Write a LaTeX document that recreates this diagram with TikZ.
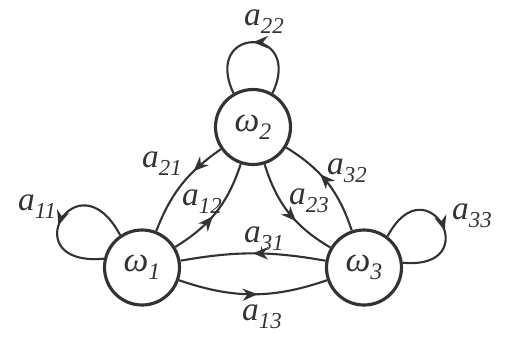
\documentclass[tikz,border=0pt]{standalone}
\usepackage{fontspec}
\setmainfont{Liberation Serif}
\usetikzlibrary{arrows.meta,decorations.markings}
\definecolor{ink}{gray}{0.2}
\tikzset{
  stnode/.style={circle,draw=ink,line width=1.8pt,minimum size=1.5cm,inner sep=0pt,
    text=ink,font=\fontsize{20}{22}\selectfont},
  trans/.style={draw=ink,line width=1.2pt},
  midarrow/.style={postaction={decorate,decoration={markings,
    mark=at position #1 with {\arrow{Stealth[length=8.5pt,width=7pt]}}}}},
  lbl/.style={inner sep=0pt,text=ink,font=\fontsize{19}{22}\selectfont}
}
\newcommand{\acoef}[1]{\textit{a}\raisebox{-4.5pt}{\fontsize{13}{14}\selectfont\textit{#1}}}
\newcommand{\wst}[1]{\textit{ω}\raisebox{-4.5pt}{\fontsize{13.5}{14}\selectfont\textit{#1}}}
\begin{document}
\begin{tikzpicture}
\useasboundingbox (0,0) rectangle (10.1,6.74);
% 状态
\node[stnode] (w1) at (2.84,1.39) {\wst{1}};
\node[stnode] (w2) at (5.06,4.20) {\wst{2}};
\node[stnode] (w3) at (7.28,1.39) {\wst{3}};
% 自环
\draw[trans,midarrow=0.5] (w2.60) .. controls +(65:1.5) and +(115:1.5) .. (w2.120);
\draw[trans,midarrow=0.55] (w1.124) .. controls +(118:1.85) and +(185:1.85) .. (w1.167);
\draw[trans,midarrow=0.55] (w3.53) .. controls +(62:1.7) and +(-5:1.7) .. (w3.7);
% 转移
\draw[trans,midarrow=0.33] (w2) to[bend right=17] (w1);
\draw[trans,midarrow=0.45] (w1) to[bend right=20] (w2);
\draw[trans,midarrow=0.6] (w2) to[bend right=21] (w3);
\draw[trans,midarrow=0.6] (w3) to[bend right=20] (w2);
\draw[trans,midarrow=0.5] (w3) to[bend right=10] (w1);
\draw[trans,midarrow=0.53] (w1) to[bend right=19] (w3);
% 标签
\node[lbl] (l22) at (5.28,6.30) {\acoef{22}};
\node[lbl] (l11) at (0.74,2.60) {\acoef{11}};
\node[lbl] (l33) at (9.44,2.42) {\acoef{33}};
\node[lbl] (l21) at (3.24,3.46) {\acoef{21}};
\node[lbl] (l12) at (4.04,2.70) {\acoef{12}};
\node[lbl] (l23) at (6.18,2.72) {\acoef{23}};
\node[lbl] (l32) at (6.94,3.32) {\acoef{32}};
\node[lbl] (l31) at (5.28,1.96) {\acoef{31}};
\node[lbl] (l13) at (5.24,0.40) {\acoef{13}};
\end{tikzpicture}
\end{document}
